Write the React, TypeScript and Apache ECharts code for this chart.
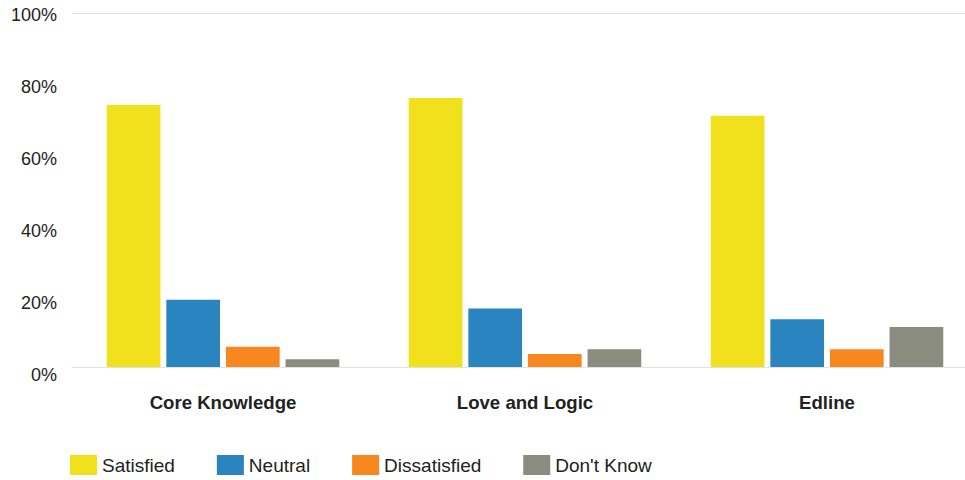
import React, { useEffect, useRef } from "react";
import * as echarts from "echarts";

const categories = ["Core Knowledge", "Love and Logic", "Edline"];
const seriesNames = ["Satisfied", "Neutral", "Dissatisfied", "Don't Know"];
const satisfied = [74, 76, 71];
const neutral = [19, 16.5, 13.5];
const dissatisfied = [5.7, 3.7, 5];
const dontKnow = [2.2, 5, 11.3];
const colors = ["#F1E11D", "#2A84BF", "#F7871F", "#8B8C80"];
const yTicks = { min: 0, max: 100, interval: 20 };

export default function App() {
  const ref = useRef<HTMLDivElement>(null);
  useEffect(() => {
    if (!ref.current) return;
    const chart = echarts.init(ref.current, undefined, { renderer: "svg" });
    const values = [satisfied, neutral, dissatisfied, dontKnow];
    chart.setOption({
      animation: false,
      backgroundColor: "#ffffff",
      textStyle: { fontFamily: "Liberation Sans, Arial, sans-serif" },
      grid: [
        { left: 72, width: 906, top: 13, bottom: 113, outerBoundsMode: "none", containLabel: false },
        { left: 72, width: 906, top: 15, bottom: 105, outerBoundsMode: "none", containLabel: false },
      ],
      legend: {
        left: 65,
        top: 450,
        itemWidth: 27,
        itemHeight: 20,
        itemGap: 42,
        icon: "rect",
        textStyle: { fontSize: 19, color: "#222" },
        data: seriesNames,
      },
      xAxis: [
        {
          type: "category",
          gridIndex: 0,
          data: categories,
          axisLine: { show: true, lineStyle: { color: "#e2e2e2", width: 1 } },
          axisTick: { show: false },
          axisLabel: { fontSize: 18.6, fontWeight: "bold", color: "#222", margin: 26 },
        },
        { type: "category", gridIndex: 1, data: categories, show: false },
      ],
      yAxis: [
        {
          type: "value",
          gridIndex: 0,
          min: yTicks.min,
          max: yTicks.max,
          interval: yTicks.interval,
          axisLine: { show: false },
          axisTick: { show: false },
          splitLine: { show: false },
          axisLabel: { show: false },
        },
        {
          type: "value",
          gridIndex: 1,
          min: yTicks.min,
          max: yTicks.max,
          interval: yTicks.interval,
          axisLine: { show: false },
          axisTick: { show: false },
          splitLine: { show: false },
          axisLabel: { formatter: "{value}%", fontSize: 18, color: "#222", margin: 15 },
        },
      ],
      series: seriesNames.map((name, i) => ({
        name,
        type: "bar",
        xAxisIndex: 0,
        yAxisIndex: 0,
        data: values[i],
        barGap: "11%",
        barCategoryGap: "23%",
        itemStyle: { color: colors[i] },
        markLine:
          i === 0
            ? {
                silent: true,
                symbol: "none",
                label: { show: false },
                lineStyle: { color: "#e4e4e4", type: "solid", width: 1 },
                data: [{ yAxis: 100 }],
              }
            : undefined,
      })),
    });
    return () => chart.dispose();
  }, []);
  return <div ref={ref} style={{ width: 965, height: 480, position: "absolute", left: 0, top: 0 }} />;
}
